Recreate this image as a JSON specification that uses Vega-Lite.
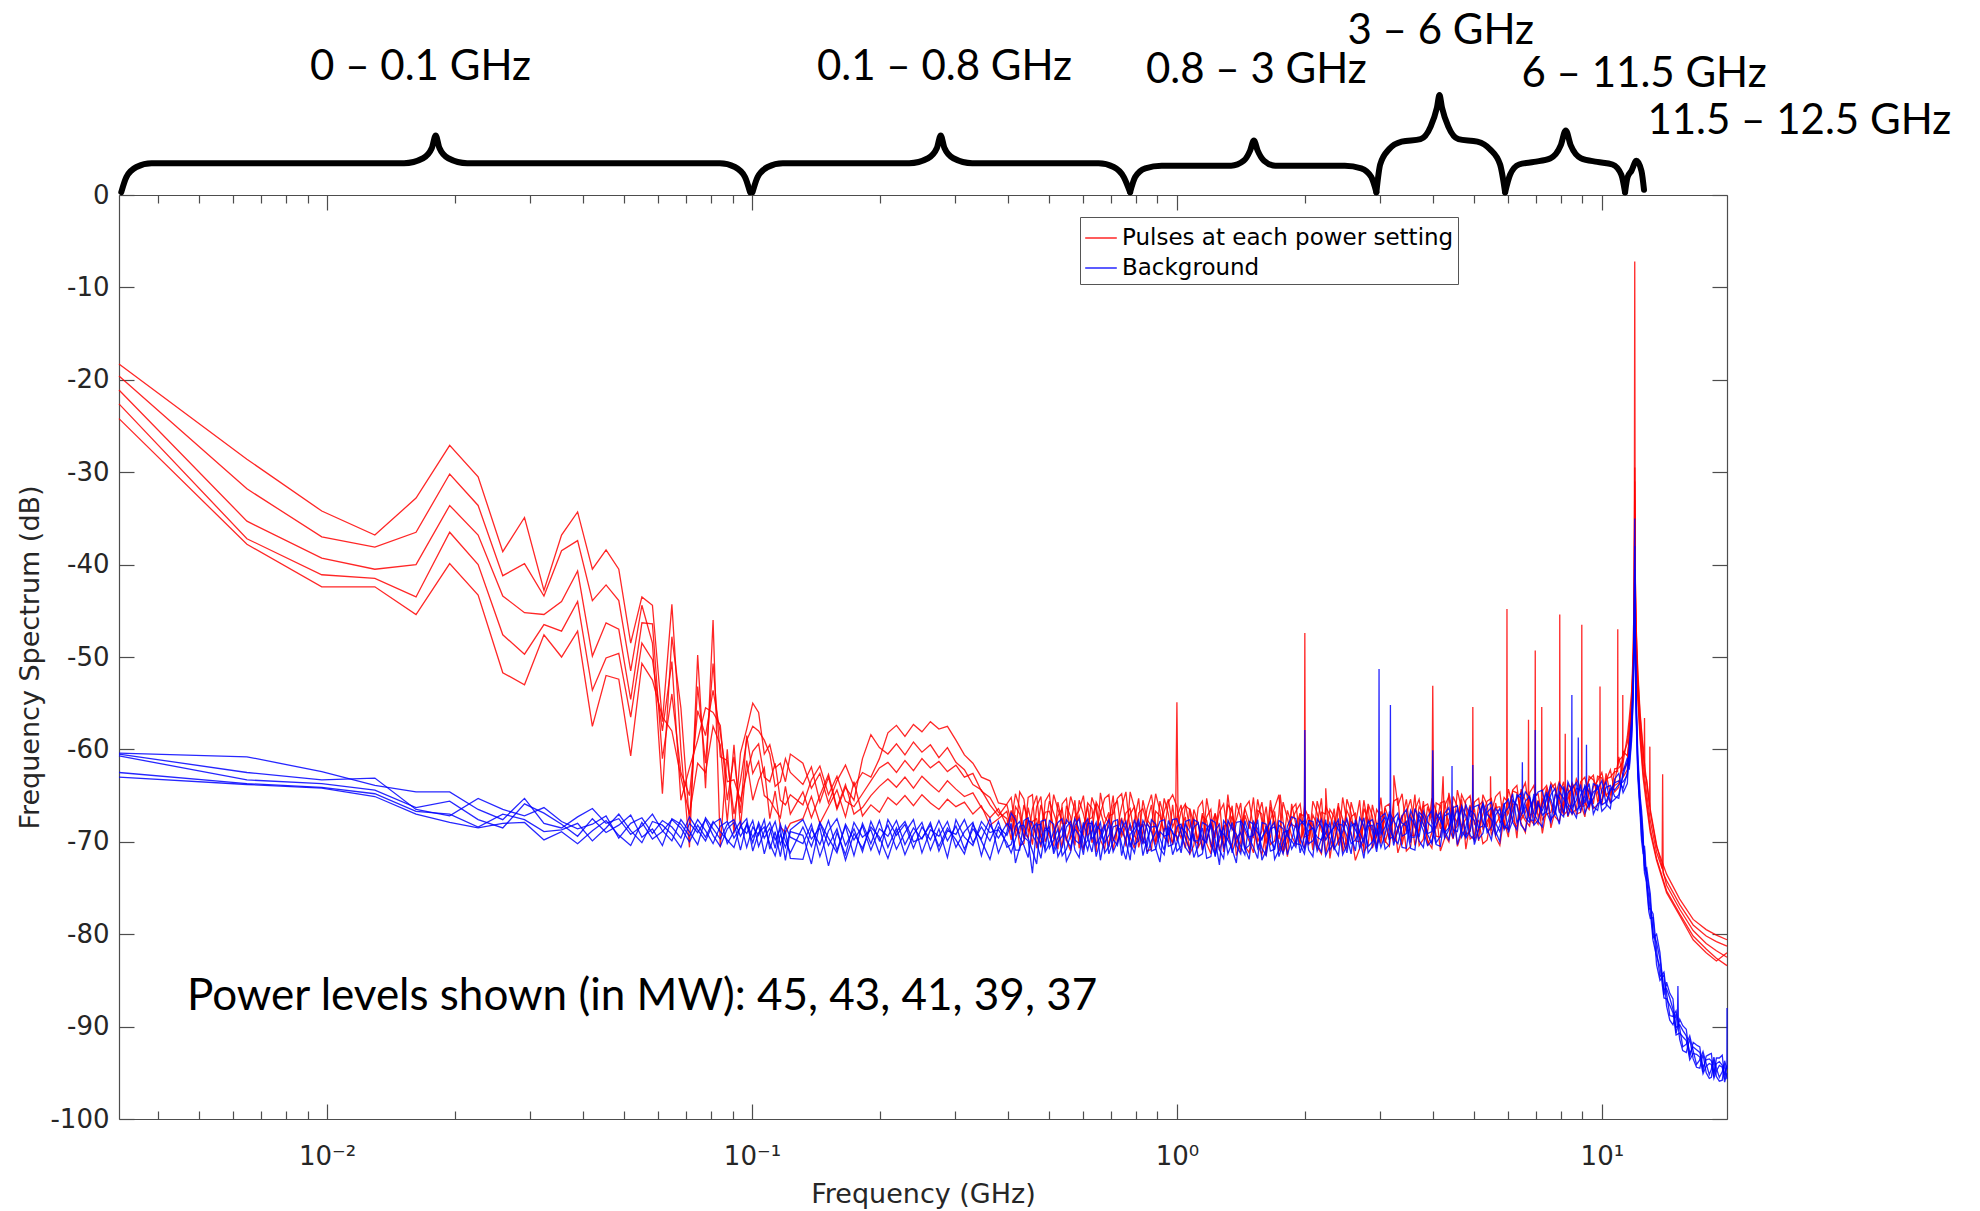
{
"$schema": "https://vega.github.io/schema/vega-lite/v6.json",
"width": 1608, "height": 924,
"autosize": {"type": "none"},
"padding": {"left": 119, "top": 195, "right": 253, "bottom": 92},
"background": "white",
"config": {
 "view": {"stroke": null},
 "axis": {"domainColor": "#4d4d4d", "domainWidth": 1.2, "tickColor": "#4d4d4d", "tickWidth": 1.2, "labelColor": "#262626", "titleColor": "#262626", "labelFont": "DejaVu Sans", "titleFont": "DejaVu Sans", "labelFontSize": 26, "titleFontSize": 27, "titleFontWeight": "normal", "grid": false}
},
"data": {"values": [
{"f":0.00324,"r1":-18.3,"r2":-19.6,"r3":-21.1,"r4":-22.6,"r5":-24.2,"b1":-60.4,"b2":-60.5,"b3":-60.7,"b4":-62.5,"b5":-63.0},
{"f":0.00648,"r1":-28.6,"r2":-31.8,"r3":-35.3,"r4":-37.2,"r5":-37.8,"b1":-60.8,"b2":-62.5,"b3":-63.3,"b4":-63.7,"b5":-63.8},
{"f":0.00972,"r1":-34.2,"r2":-37.0,"r3":-39.3,"r4":-41.1,"r5":-42.4,"b1":-62.4,"b2":-63.3,"b3":-63.7,"b4":-64.1,"b5":-64.2},
{"f":0.01296,"r1":-36.8,"r2":-38.1,"r3":-40.5,"r4":-41.5,"r5":-42.4,"b1":-63.9,"b2":-63.1,"b3":-64.4,"b4":-64.8,"b5":-65.1},
{"f":0.0162,"r1":-32.8,"r2":-36.5,"r3":-40.0,"r4":-43.5,"r5":-45.4,"b1":-64.6,"b2":-66.5,"b3":-66.3,"b4":-66.7,"b5":-67.0},
{"f":0.01944,"r1":-27.1,"r2":-30.2,"r3":-33.6,"r4":-36.5,"r5":-39.9,"b1":-64.6,"b2":-67.2,"b3":-65.6,"b4":-67.0,"b5":-67.9},
{"f":0.02268,"r1":-30.5,"r2":-33.6,"r3":-36.8,"r4":-40.0,"r5":-43.3,"b1":-66.5,"b2":-65.3,"b3":-67.6,"b4":-68.4,"b5":-68.5},
{"f":0.02592,"r1":-38.6,"r2":-41.2,"r3":-43.4,"r4":-47.6,"r5":-51.7,"b1":-67.6,"b2":-66.5,"b3":-68.5,"b4":-67.0,"b5":-68.0},
{"f":0.02916,"r1":-34.9,"r2":-39.9,"r3":-45.2,"r4":-49.7,"r5":-53.0,"b1":-65.3,"b2":-67.2,"b3":-65.9,"b4":-67.6,"b5":-67.9},
{"f":0.0324,"r1":-42.8,"r2":-43.4,"r3":-45.4,"r4":-46.5,"r5":-47.6,"b1":-68.0,"b2":-66.3,"b3":-66.9,"b4":-68.9,"b5":-69.8},
{"f":0.03564,"r1":-36.8,"r2":-38.5,"r3":-44.0,"r4":-47.2,"r5":-50.0,"b1":-68.5,"b2":-67.8,"b3":-68.1,"b4":-68.7,"b5":-68.9},
{"f":0.03888,"r1":-34.3,"r2":-37.4,"r3":-40.7,"r4":-44.0,"r5":-47.2,"b1":-67.3,"b2":-68.6,"b3":-69.4,"b4":-68.0,"b5":-70.2},
{"f":0.04212,"r1":-40.5,"r2":-43.9,"r3":-49.9,"r4":-53.6,"r5":-57.5,"b1":-66.4,"b2":-68.1,"b3":-67.5,"b4":-69.9,"b5":-68.8},
{"f":0.04536,"r1":-38.4,"r2":-42.2,"r3":-46.3,"r4":-50.1,"r5":-52.0,"b1":-68.0,"b2":-67.2,"b3":-69.0,"b4":-68.5,"b5":-67.7},
{"f":0.0486,"r1":-40.5,"r2":-43.9,"r3":-47.0,"r4":-49.6,"r5":-52.4,"b1":-67.5,"b2":-69.6,"b3":-68.2,"b4":-67.0,"b5":-69.3},
{"f":0.05184,"r1":-48.5,"r2":-51.5,"r3":-54.6,"r4":-56.5,"r5":-60.7,"b1":-69.2,"b2":-68.0,"b3":-67.1,"b4":-68.8,"b5":-70.4},
{"f":0.05508,"r1":-43.5,"r2":-44.4,"r3":-46.3,"r4":-48.5,"r5":-50.7,"b1":-68.3,"b2":-67.4,"b3":-69.5,"b4":-70.1,"b5":-67.9},
{"f":0.05832,"r1":-44.4,"r2":-48.5,"r3":-46.4,"r4":-50.3,"r5":-52.5,"b1":-67.0,"b2":-69.1,"b3":-68.6,"b4":-67.8,"b5":-69.7},
{"f":0.06156,"r1":-57.0,"r2":-64.8,"r3":-61.0,"r4":-58.0,"r5":-56.5,"b1":-68.8,"b2":-67.7,"b3":-70.4,"b4":-68.2,"b5":-68.9},
{"f":0.0648,"r1":-44.3,"r2":-47.8,"r3":-54.0,"r4":-50.5,"r5":-58.0,"b1":-69.9,"b2":-68.4,"b3":-67.5,"b4":-69.2,"b5":-67.6},
{"f":0.06804,"r1":-60.0,"r2":-55.5,"r3":-62.5,"r4":-65.5,"r5":-63.0,"b1":-67.6,"b2":-69.6,"b3":-68.1,"b4":-70.6,"b5":-68.5},
{"f":0.07128,"r1":-70.6,"r2":-68.0,"r3":-65.0,"r4":-62.0,"r5":-67.0,"b1":-68.9,"b2":-67.3,"b3":-69.4,"b4":-68.0,"b5":-70.0},
{"f":0.07452,"r1":-49.8,"r2":-53.2,"r3":-55.8,"r4":-59.0,"r5":-61.5,"b1":-70.3,"b2":-68.7,"b3":-67.6,"b4":-69.0,"b5":-68.2},
{"f":0.07776,"r1":-64.2,"r2":-61.5,"r3":-58.5,"r4":-55.5,"r5":-62.5,"b1":-67.4,"b2":-69.9,"b3":-68.8,"b4":-67.6,"b5":-69.5},
{"f":0.081,"r1":-46.0,"r2":-50.7,"r3":-53.6,"r4":-56.0,"r5":-57.5,"b1":-68.6,"b2":-68.0,"b3":-70.2,"b4":-69.3,"b5":-67.8},
{"f":0.08424,"r1":-70.6,"r2":-60.8,"r3":-58.2,"r4":-57.4,"r5":-59.5,"b1":-69.7,"b2":-67.5,"b3":-68.3,"b4":-70.5,"b5":-68.9},
{"f":0.08748,"r1":-60.0,"r2":-61.2,"r3":-63.5,"r4":-65.5,"r5":-67.8,"b1":-68.1,"b2":-70.2,"b3":-67.8,"b4":-68.6,"b5":-69.8},
{"f":0.09072,"r1":-69.1,"r2":-67.0,"r3":-63.3,"r4":-60.8,"r5":-59.5,"b1":-67.6,"b2":-68.9,"b3":-69.6,"b4":-67.9,"b5":-70.6},
{"f":0.09396,"r1":-60.4,"r2":-63.4,"r3":-65.5,"r4":-66.9,"r5":-68.4,"b1":-69.4,"b2":-67.8,"b3":-68.4,"b4":-70.9,"b5":-68.3},
{"f":0.0972,"r1":-57.8,"r2":-59.0,"r3":-62.6,"r4":-58.5,"r5":-61.2,"b1":-68.2,"b2":-70.6,"b3":-69.1,"b4":-68.0,"b5":-67.5},
{"f":0.10044,"r1":-55.0,"r2":-57.5,"r3":-60.2,"r4":-62.6,"r5":-65.5,"b1":-70.1,"b2":-68.4,"b3":-67.7,"b4":-69.5,"b5":-71.0},
{"f":0.10368,"r1":-56.0,"r2":-58.0,"r3":-59.4,"r4":-61.3,"r5":-63.3,"b1":-67.9,"b2":-69.3,"b3":-70.5,"b4":-68.2,"b5":-69.0},
{"f":0.10692,"r1":-60.5,"r2":-59.0,"r3":-63.0,"r4":-65.0,"r5":-62.0,"b1":-69.6,"b2":-67.6,"b3":-68.9,"b4":-71.3,"b5":-68.4},
{"f":0.11016,"r1":-59.5,"r2":-60.5,"r3":-63.5,"r4":-65.5,"r5":-67.5,"b1":-68.5,"b2":-70.8,"b3":-67.9,"b4":-69.1,"b5":-70.2},
{"f":0.1134,"r1":-62.0,"r2":-64.0,"r3":-61.5,"r4":-66.5,"r5":-64.5,"b1":-70.7,"b2":-68.9,"b3":-69.8,"b4":-67.8,"b5":-71.5},
{"f":0.11664,"r1":-61.5,"r2":-63.5,"r3":-65.5,"r4":-67.4,"r5":-68.4,"b1":-68.1,"b2":-71.6,"b3":-68.6,"b4":-70.3,"b5":-69.2},
{"f":0.11988,"r1":-63.5,"r2":-61.0,"r3":-66.0,"r4":-64.0,"r5":-69.0,"b1":-69.9,"b2":-68.3,"b3":-72.0,"b4":-68.9,"b5":-70.6},
{"f":0.12312,"r1":-60.5,"r2":-62.5,"r3":-64.9,"r4":-67.0,"r5":-68.0,"b1":-71.2,"b2":-69.5,"b3":-68.7,"b4":-71.8,"b5":-68.9},
{"f":0.1318,"r1":-61.5,"r2":-63.8,"r3":-66.0,"r4":-64.6,"r5":-67.5,"b1":-68.4,"b2":-70.2,"b3":-67.6,"b4":-71.9,"b5":-69.3},
{"f":0.138,"r1":-64.2,"r2":-61.9,"r3":-63.3,"r4":-67.4,"r5":-65.1,"b1":-70.5,"b2":-68.1,"b3":-69.7,"b4":-68.6,"b5":-72.4},
{"f":0.1445,"r1":-62.6,"r2":-65.7,"r3":-61.8,"r4":-65.0,"r5":-68.0,"b1":-67.9,"b2":-71.6,"b3":-68.5,"b4":-70.3,"b5":-68.0},
{"f":0.1514,"r1":-65.8,"r2":-63.0,"r3":-64.9,"r4":-62.7,"r5":-66.2,"b1":-69.6,"b2":-68.8,"b3":-72.6,"b4":-67.7,"b5":-70.4},
{"f":0.1585,"r1":-63.4,"r2":-66.5,"r3":-62.9,"r4":-66.3,"r5":-64.4,"b1":-71.2,"b2":-67.5,"b3":-69.0,"b4":-70.9,"b5":-68.6},
{"f":0.166,"r1":-61.7,"r2":-64.1,"r3":-65.6,"r4":-63.8,"r5":-67.3,"b1":-68.1,"b2":-70.4,"b3":-71.4,"b4":-68.3,"b5":-72.0},
{"f":0.1738,"r1":-64.0,"r2":-65.5,"r3":-66.2,"r4":-67.0,"r5":-63.5,"b1":-69.8,"b2":-68.6,"b3":-67.9,"b4":-71.5,"b5":-69.1},
{"f":0.182,"r1":-62.5,"r2":-61.0,"r3":-64.8,"r4":-66.3,"r5":-67.2,"b1":-68.3,"b2":-71.1,"b3":-69.5,"b4":-68.0,"b5":-70.7},
{"f":0.1905,"r1":-63.0,"r2":-58.4,"r3":-63.4,"r4":-65.0,"r5":-66.0,"b1":-70.9,"b2":-67.8,"b3":-68.7,"b4":-70.2,"b5":-68.4},
{"f":0.1995,"r1":-61.0,"r2":-59.8,"r3":-62.0,"r4":-64.0,"r5":-66.8,"b1":-68.6,"b2":-69.9,"b3":-71.3,"b4":-67.7,"b5":-69.5},
{"f":0.2089,"r1":-58.2,"r2":-60.5,"r3":-61.4,"r4":-63.2,"r5":-65.2,"b1":-69.4,"b2":-68.2,"b3":-67.6,"b4":-70.6,"b5":-71.8},
{"f":0.2188,"r1":-57.4,"r2":-59.4,"r3":-62.5,"r4":-64.1,"r5":-66.0,"b1":-67.7,"b2":-70.8,"b3":-69.3,"b4":-68.5,"b5":-68.9},
{"f":0.2291,"r1":-58.6,"r2":-60.6,"r3":-61.2,"r4":-63.0,"r5":-65.0,"b1":-70.3,"b2":-69.0,"b3":-68.1,"b4":-71.4,"b5":-67.8},
{"f":0.2399,"r1":-57.3,"r2":-59.2,"r3":-62.3,"r4":-64.2,"r5":-66.1,"b1":-68.5,"b2":-67.6,"b3":-70.7,"b4":-69.2,"b5":-70.0},
{"f":0.2512,"r1":-58.1,"r2":-60.3,"r3":-61.0,"r4":-62.9,"r5":-64.9,"b1":-69.7,"b2":-71.2,"b3":-68.4,"b4":-67.9,"b5":-69.6},
{"f":0.263,"r1":-57.0,"r2":-59.5,"r3":-62.0,"r4":-63.8,"r5":-65.8,"b1":-67.9,"b2":-68.7,"b3":-69.8,"b4":-70.9,"b5":-68.2},
{"f":0.2754,"r1":-57.8,"r2":-60.9,"r3":-61.3,"r4":-64.6,"r5":-66.5,"b1":-71.0,"b2":-69.4,"b3":-67.7,"b4":-68.6,"b5":-70.5},
{"f":0.2884,"r1":-57.5,"r2":-59.8,"r3":-62.4,"r4":-63.4,"r5":-65.4,"b1":-68.8,"b2":-67.8,"b3":-69.9,"b4":-71.7,"b5":-68.5},
{"f":0.302,"r1":-59.0,"r2":-61.4,"r3":-61.7,"r4":-64.3,"r5":-66.2,"b1":-69.2,"b2":-70.6,"b3":-68.3,"b4":-67.6,"b5":-69.8},
{"f":0.3162,"r1":-60.6,"r2":-62.2,"r3":-63.0,"r4":-65.1,"r5":-65.7,"b1":-67.6,"b2":-68.9,"b3":-70.8,"b4":-69.5,"b5":-71.3},
{"f":0.3311,"r1":-61.5,"r2":-63.8,"r3":-62.6,"r4":-64.7,"r5":-67.0,"b1":-70.1,"b2":-67.9,"b3":-68.6,"b4":-70.4,"b5":-68.1},
{"f":0.3467,"r1":-63.0,"r2":-64.4,"r3":-64.5,"r4":-66.3,"r5":-66.1,"b1":-68.4,"b2":-71.5,"b3":-69.7,"b4":-67.8,"b5":-69.9},
{"f":0.3631,"r1":-63.4,"r2":-66.0,"r3":-65.2,"r4":-67.4,"r5":-68.2,"b1":-69.9,"b2":-68.2,"b3":-67.5,"b4":-69.0,"b5":-71.9},
{"f":0.3802,"r1":-65.8,"r2":-67.2,"r3":-66.8,"r4":-66.4,"r5":-67.5,"b1":-67.8,"b2":-69.6,"b3":-71.2,"b4":-68.7,"b5":-68.4},
{"f":0.3981,"r1":-66.0,"r2":-65.9,"r3":-67.5,"r4":-68.3,"r5":-66.7,"b1":-70.6,"b2":-68.0,"b3":-68.9,"b4":-70.1,"b5":-69.3},
{"f":0.4169,"r1":-64.8,"r2":-68.6,"r3":-66.2,"r4":-69.4,"r5":-67.1,"b1":-68.3,"b2":-70.9,"b3":-67.6,"b4":-69.7,"b5":-72.3},
{"f":0.4365,"r1":-68.9,"r2":-66.0,"r3":-69.7,"r4":-65.4,"r5":-70.2,"b1":-69.5,"b2":-67.7,"b3":-70.4,"b4":-68.2,"b5":-69.8},
{"f":0.4571,"r1":-66.4,"r2":-70.3,"r3":-64.9,"r4":-67.8,"r5":-68.5,"b1":-73.4,"b2":-69.3,"b3":-68.5,"b4":-71.0,"b5":-67.9},
{"f":0.4786,"r1":-69.5,"r2":-65.1,"r3":-68.2,"r4":-70.6,"r5":-66.0,"b1":-68.1,"b2":-71.8,"b3":-69.6,"b4":-67.8,"b5":-70.3},
{"f":0.5012,"r1":-65.6,"r2":-68.9,"r3":-66.7,"r4":-64.8,"r5":-69.4,"b1":-70.2,"b2":-68.4,"b3":-67.7,"b4":-70.7,"b5":-68.9},
{"f":0.5248,"r1":-68.3,"r2":-66.5,"r3":-70.8,"r4":-67.2,"r5":-65.7,"b1":-67.9,"b2":-70.0,"b3":-71.6,"b4":-68.6,"b5":-69.5},
{"f":0.5495,"r1":-66.1,"r2":-69.8,"r3":-65.3,"r4":-69.9,"r5":-68.0,"b1":-69.7,"b2":-67.6,"b3":-68.4,"b4":-70.8,"b5":-72.1},
{"f":0.5754,"r1":-70.4,"r2":-67.3,"r3":-68.6,"r4":-65.5,"r5":-66.6,"b1":-68.6,"b2":-70.9,"b3":-69.8,"b4":-67.5,"b5":-68.2},
{"f":0.6026,"r1":-67.0,"r2":-65.0,"r3":-69.3,"r4":-68.4,"r5":-70.9,"b1":-71.4,"b2":-68.3,"b3":-67.9,"b4":-69.4,"b5":-70.6},
{"f":0.631,"r1":-65.2,"r2":-68.8,"r3":-66.4,"r4":-70.1,"r5":-67.4,"b1":-68.0,"b2":-69.7,"b3":-71.1,"b4":-68.9,"b5":-67.7},
{"f":0.6607,"r1":-69.1,"r2":-66.7,"r3":-64.7,"r4":-66.9,"r5":-69.8,"b1":-69.8,"b2":-67.9,"b3":-68.7,"b4":-72.0,"b5":-69.4},
{"f":0.6918,"r1":-66.8,"r2":-70.5,"r3":-68.0,"r4":-64.9,"r5":-67.2,"b1":-67.6,"b2":-70.5,"b3":-69.3,"b4":-68.2,"b5":-71.3},
{"f":0.7244,"r1":-68.5,"r2":-65.6,"r3":-70.2,"r4":-68.7,"r5":-65.3,"b1":-70.4,"b2":-68.2,"b3":-67.6,"b4":-70.0,"b5":-68.5},
{"f":0.7586,"r1":-64.6,"r2":-68.3,"r3":-66.9,"r4":-70.5,"r5":-68.1,"b1":-68.7,"b2":-71.9,"b3":-69.5,"b4":-67.8,"b5":-69.9},
{"f":0.7943,"r1":-67.7,"r2":-66.2,"r3":-69.4,"r4":-66.3,"r5":-70.7,"b1":-71.2,"b2":-68.6,"b3":-70.3,"b4":-69.1,"b5":-67.6},
{"f":0.8318,"r1":-70.2,"r2":-68.9,"r3":-65.5,"r4":-68.1,"r5":-66.4,"b1":-68.2,"b2":-69.8,"b3":-67.7,"b4":-71.5,"b5":-70.2},
{"f":0.871,"r1":-66.0,"r2":-64.9,"r3":-68.3,"r4":-70.8,"r5":-68.6,"b1":-69.9,"b2":-67.6,"b3":-71.0,"b4":-68.4,"b5":-68.9},
{"f":0.912,"r1":-68.7,"r2":-69.5,"r3":-66.6,"r4":-67.2,"r5":-65.6,"b1":-67.8,"b2":-70.7,"b3":-68.9,"b4":-69.6,"b5":-72.2},
{"f":0.955,"r1":-65.4,"r2":-67.0,"r3":-70.1,"r4":-65.7,"r5":-69.3,"b1":-70.5,"b2":-68.4,"b3":-69.2,"b4":-67.7,"b5":-68.6},
{"f":0.993,"r1":-67.6},
{"f":1.0,"r1":-54.9,"r2":-67.4,"r3":-69.9,"r4":-66.2,"r5":-68.8,"b1":-68.3,"b2":-71.0,"b3":-67.5,"b4":-69.4,"b5":-70.1},
{"f":1.007,"r1":-68.9},
{"f":1.047,"r1":-66.1,"r2":-69.6,"r3":-67.3,"r4":-70.7,"r5":-65.9,"b1":-69.6,"b2":-67.8,"b3":-70.6,"b4":-68.1,"b5":-68.9},
{"f":1.096,"r1":-69.8,"r2":-66.5,"r3":-70.4,"r4":-68.0,"r5":-67.4,"b1":-67.6,"b2":-69.9,"b3":-68.4,"b4":-71.7,"b5":-69.2},
{"f":1.148,"r1":-67.2,"r2":-70.9,"r3":-65.6,"r4":-66.9,"r5":-69.7,"b1":-70.8,"b2":-68.5,"b3":-69.7,"b4":-67.9,"b5":-71.3},
{"f":1.202,"r1":-70.6,"r2":-67.9,"r3":-68.2,"r4":-71.3,"r5":-66.5,"b1":-68.2,"b2":-71.6,"b3":-67.6,"b4":-70.2,"b5":-68.0},
{"f":1.259,"r1":-66.8,"r2":-65.4,"r3":-70.9,"r4":-68.6,"r5":-69.9,"b1":-69.5,"b2":-68.1,"b3":-70.9,"b4":-68.7,"b5":-72.5},
{"f":1.318,"r1":-69.3,"r2":-68.7,"r3":-66.0,"r4":-64.9,"r5":-68.2,"b1":-71.3,"b2":-69.6,"b3":-67.7,"b4":-69.8,"b5":-68.4},
{"f":1.38,"r1":-65.8,"r2":-70.2,"r3":-69.4,"r4":-67.6,"r5":-71.5,"b1":-67.9,"b2":-70.4,"b3":-69.2,"b4":-72.3,"b5":-69.6},
{"f":1.445,"r1":-68.9,"r2":-66.3,"r3":-67.1,"r4":-70.4,"r5":-66.4,"b1":-70.6,"b2":-67.7,"b3":-71.4,"b4":-68.5,"b5":-70.8},
{"f":1.514,"r1":-71.2,"r2":-68.5,"r3":-65.2,"r4":-68.3,"r5":-69.6,"b1":-68.4,"b2":-69.3,"b3":-68.1,"b4":-70.6,"b5":-67.8},
{"f":1.585,"r1":-67.0,"r2":-71.4,"r3":-68.8,"r4":-65.7,"r5":-67.8,"b1":-69.8,"b2":-72.0,"b3":-69.5,"b4":-67.9,"b5":-70.7},
{"f":1.66,"r1":-66.2,"r2":-67.6,"r3":-70.3,"r4":-69.5,"r5":-65.5,"b1":-71.0,"b2":-68.6,"b3":-67.8,"b4":-69.9,"b5":-68.5},
{"f":1.738,"r1":-69.7,"r2":-64.9,"r3":-67.0,"r4":-71.0,"r5":-68.9,"b1":-67.7,"b2":-70.1,"b3":-70.9,"b4":-68.2,"b5":-71.6},
{"f":1.75,"r3":-64.9},
{"f":1.82,"r1":-67.5,"r2":-69.2,"r3":-71.6,"r4":-66.6,"r5":-70.0,"b1":-69.4,"b2":-68.3,"b3":-68.8,"b4":-71.4,"b5":-69.0},
{"f":1.905,"r1":-70.3,"r2":-66.7,"r3":-68.1,"r4":-68.4,"r5":-65.9,"b1":-70.6,"b2":-67.5,"b3":-69.9,"b4":-68.0,"b5":-70.2},
{"f":1.995,"r1":-67.2,"r2":-69.5,"r3":-66.3,"r4":-70.6,"r5":-68.7,"b1":-68.2,"b2":-70.8,"b3":-67.7,"b4":-69.4,"b5":-71.3},
{"f":2.0,"r1":-47.4,"b1":-57.9},
{"f":2.006,"r1":-68.5,"b1":-69.0},
{"f":2.089,"r1":-65.6,"r2":-68.0,"r3":-70.9,"r4":-67.1,"r5":-69.5,"b1":-69.9,"b2":-68.6,"b3":-71.6,"b4":-67.8,"b5":-68.5},
{"f":2.188,"r1":-68.8,"r2":-71.3,"r3":-67.4,"r4":-65.3,"r5":-66.8,"b1":-67.6,"b2":-69.7,"b3":-68.3,"b4":-71.1,"b5":-69.8},
{"f":2.24,"r5":-64.2},
{"f":2.291,"r1":-66.5,"r2":-67.1,"r3":-69.6,"r4":-68.9,"r5":-71.8,"b1":-70.4,"b2":-67.9,"b3":-69.0,"b4":-68.4,"b5":-70.9},
{"f":2.399,"r1":-70.1,"r2":-65.8,"r3":-66.2,"r4":-70.4,"r5":-67.9,"b1":-68.7,"b2":-71.5,"b3":-67.6,"b4":-69.9,"b5":-68.1},
{"f":2.512,"r1":-67.8,"r2":-69.7,"r3":-70.8,"r4":-66.6,"r5":-65.4,"b1":-71.2,"b2":-68.3,"b3":-70.4,"b4":-67.5,"b5":-69.4},
{"f":2.63,"r1":-72.0,"r2":-66.9,"r3":-67.5,"r4":-68.2,"r5":-69.9,"b1":-68.0,"b2":-69.8,"b3":-68.7,"b4":-71.0,"b5":-67.6},
{"f":2.754,"r1":-66.4,"r2":-70.6,"r3":-65.5,"r4":-71.1,"r5":-68.2,"b1":-69.5,"b2":-67.4,"b3":-71.8,"b4":-68.3,"b5":-70.1},
{"f":2.884,"r1":-68.6,"r2":-67.2,"r3":-69.9,"r4":-66.0,"r5":-70.7,"b1":-67.6,"b2":-70.5,"b3":-68.2,"b4":-70.0,"b5":-68.9},
{"f":2.985,"b1":-68.4},
{"f":2.99,"b1":-51.3},
{"f":2.995,"b1":-67.9},
{"f":3.02,"r1":-66.7,"r2":-69.4,"r3":-67.3,"r4":-70.2,"r5":-65.2,"b1":-69.2,"b2":-68.1,"b3":-67.3,"b4":-70.6,"b5":-68.0},
{"f":3.162,"r1":-69.8,"r2":-65.9,"r3":-70.5,"r4":-67.7,"r5":-68.3,"b1":-67.0,"b2":-70.3,"b3":-68.6,"b4":-66.8,"b5":-69.7},
{"f":3.175,"b2":-67.6},
{"f":3.18,"b2":-55.2},
{"f":3.186,"b2":-68.3},
{"f":3.24,"r3":-62.8},
{"f":3.311,"r1":-65.3,"r2":-68.5,"r3":-66.1,"r4":-68.9,"r5":-71.2,"b1":-68.6,"b2":-66.9,"b3":-70.2,"b4":-68.5,"b5":-67.4},
{"f":3.467,"r1":-68.1,"r2":-71.0,"r3":-68.8,"r4":-65.4,"r5":-66.9,"b1":-66.5,"b2":-69.1,"b3":-67.8,"b4":-70.7,"b5":-68.3},
{"f":3.631,"r1":-70.4,"r2":-66.6,"r3":-64.9,"r4":-69.3,"r5":-68.5,"b1":-69.5,"b2":-67.7,"b3":-66.4,"b4":-68.2,"b5":-70.9},
{"f":3.802,"r1":-66.2,"r2":-68.2,"r3":-69.7,"r4":-67.0,"r5":-65.6,"b1":-67.3,"b2":-70.6,"b3":-68.8,"b4":-66.7,"b5":-68.1},
{"f":3.981,"r1":-67.4,"r2":-65.3,"r3":-67.9,"r4":-70.7,"r5":-69.0,"b1":-68.9,"b2":-66.6,"b3":-69.9,"b4":-68.4,"b5":-70.2},
{"f":4.0,"r1":-53.1,"b1":-60.1},
{"f":4.02,"r1":-67.8,"b1":-68.6},
{"f":4.169,"r1":-69.5,"r2":-68.6,"r3":-65.8,"r4":-66.1,"r5":-71.0,"b1":-66.8,"b2":-69.4,"b3":-67.2,"b4":-70.5,"b5":-67.7},
{"f":4.23,"r2":-62.9},
{"f":4.365,"r1":-65.1,"r2":-70.0,"r3":-68.4,"r4":-67.6,"r5":-64.7,"b1":-68.7,"b2":-66.3,"b3":-68.5,"b4":-66.9,"b5":-69.8},
{"f":4.435,"b3":-67.1},
{"f":4.44,"b3":-61.8},
{"f":4.446,"b3":-68.0},
{"f":4.571,"r1":-68.3,"r2":-66.2,"r3":-64.4,"r4":-70.5,"r5":-67.9,"b1":-66.1,"b2":-68.9,"b3":-70.3,"b4":-67.6,"b5":-66.5},
{"f":4.786,"r1":-70.8,"r2":-67.5,"r3":-69.2,"r4":-65.5,"r5":-66.0,"b1":-69.5,"b2":-67.2,"b3":-66.0,"b4":-69.6,"b5":-68.4},
{"f":4.96,"r4":-66.9,"b4":-67.4},
{"f":4.97,"r4":-55.4,"b4":-61.7},
{"f":4.98,"r4":-67.3,"b4":-66.5},
{"f":5.012,"r1":-66.4,"r2":-69.8,"r3":-65.7,"r4":-68.1,"r5":-69.3,"b1":-67.0,"b2":-69.8,"b3":-67.7,"b4":-66.2,"b5":-70.3},
{"f":5.248,"r1":-64.9,"r2":-67.0,"r3":-68.6,"r4":-70.2,"r5":-65.6,"b1":-68.3,"b2":-66.0,"b3":-69.1,"b4":-67.9,"b5":-65.8},
{"f":5.465,"r5":-67.0},
{"f":5.47,"r5":-62.9},
{"f":5.495,"r1":-69.2,"r2":-65.3,"r3":-66.8,"r4":-67.0,"r5":-68.8,"b1":-65.7,"b2":-68.4,"b3":-66.3,"b4":-69.8,"b5":-67.6},
{"f":5.754,"r1":-67.3,"r2":-70.4,"r3":-64.6,"r4":-66.2,"r5":-67.9,"b1":-68.9,"b2":-67.1,"b3":-70.0,"b4":-66.4,"b5":-68.2},
{"f":5.97,"r2":-66.5},
{"f":5.98,"r2":-44.8},
{"f":5.99,"r2":-67.1},
{"f":6.026,"r1":-65.8,"r2":-66.9,"r3":-68.7,"r4":-64.3,"r5":-69.5,"b1":-66.3,"b2":-68.6,"b3":-65.4,"b4":-67.8,"b5":-69.0},
{"f":6.31,"r1":-68.4,"r2":-64.7,"r3":-66.0,"r4":-69.6,"r5":-63.9,"b1":-67.9,"b2":-65.2,"b3":-68.7,"b4":-66.0,"b5":-64.9},
{"f":6.49,"b5":-66.6},
{"f":6.5,"b5":-61.4},
{"f":6.51,"b5":-67.0},
{"f":6.607,"r1":-63.6,"r2":-67.7,"r3":-69.0,"r4":-65.5,"r5":-66.8,"b1":-65.6,"b2":-67.4,"b3":-64.6,"b4":-68.8,"b5":-66.1},
{"f":6.71,"r3":-66.0},
{"f":6.72,"r3":-56.8},
{"f":6.73,"r3":-67.2},
{"f":6.918,"r1":-66.9,"r2":-65.2,"r3":-63.9,"r4":-68.1,"r5":-67.4,"b1":-68.2,"b2":-64.8,"b3":-66.9,"b4":-65.3,"b5":-67.7},
{"f":6.96,"r1":-65.8,"b2":-66.1},
{"f":6.97,"r1":-49.3,"b2":-57.9},
{"f":6.98,"r1":-66.4,"b2":-67.0},
{"f":7.21,"r4":-67.0},
{"f":7.22,"r4":-55.4},
{"f":7.23,"r4":-65.9},
{"f":7.244,"r1":-69.1,"r2":-67.6,"r3":-66.2,"r4":-64.5,"r5":-65.3,"b1":-65.9,"b2":-67.1,"b3":-68.4,"b4":-64.4,"b5":-66.6},
{"f":7.586,"r1":-64.2,"r2":-66.8,"r3":-68.5,"r4":-65.9,"r5":-63.6,"b1":-67.6,"b2":-64.9,"b3":-65.4,"b4":-67.9,"b5":-63.8},
{"f":7.943,"r1":-66.7,"r2":-63.4,"r3":-64.9,"r4":-67.8,"r5":-65.9,"b1":-64.6,"b2":-66.8,"b3":-63.7,"b4":-65.2,"b5":-68.1},
{"f":7.955,"r5":-65.2},
{"f":7.96,"r5":-45.4},
{"f":7.97,"r5":-66.0},
{"f":8.19,"r2":-65.0},
{"f":8.2,"r2":-58.3},
{"f":8.21,"r2":-64.6},
{"f":8.318,"r1":-63.9,"r2":-65.5,"r3":-67.3,"r4":-64.1,"r5":-66.6,"b1":-66.3,"b2":-63.5,"b3":-67.2,"b4":-64.7,"b5":-65.9},
{"f":8.49,"b3":-65.7},
{"f":8.5,"b3":-54.1},
{"f":8.51,"b3":-66.4},
{"f":8.71,"r1":-67.0,"r2":-64.6,"r3":-63.2,"r4":-66.4,"r5":-64.8,"b1":-64.2,"b2":-66.6,"b3":-65.5,"b4":-63.6,"b5":-67.4},
{"f":8.79,"b4":-64.9},
{"f":8.8,"b4":-58.7},
{"f":8.81,"b4":-65.8},
{"f":8.96,"r3":-64.3},
{"f":8.97,"r3":-46.5},
{"f":8.98,"r3":-65.9},
{"f":9.12,"r1":-64.5,"r2":-67.3,"r3":-65.8,"r4":-63.0,"r5":-66.1,"b1":-65.8,"b2":-63.9,"b3":-66.9,"b4":-65.0,"b5":-64.1},
{"f":9.19,"b1":-64.8},
{"f":9.2,"b1":-59.5},
{"f":9.21,"b1":-65.5},
{"f":9.55,"r1":-62.8,"r2":-65.9,"r3":-64.0,"r4":-66.4,"r5":-63.3,"b1":-63.7,"b2":-66.2,"b3":-64.6,"b4":-67.0,"b5":-65.3},
{"f":9.89,"r4":-64.2},
{"f":9.9,"r4":-53.2},
{"f":9.91,"r4":-63.6},
{"f":10.0,"r1":-65.4,"r2":-63.1,"r3":-62.5,"r4":-64.8,"r5":-66.0,"b1":-66.0,"b2":-64.3,"b3":-63.4,"b4":-65.6,"b5":-66.7},
{"f":10.47,"r1":-63.0,"r2":-64.4,"r3":-65.7,"r4":-62.2,"r5":-64.9,"b1":-64.5,"b2":-65.8,"b3":-66.4,"b4":-63.9,"b5":-64.2},
{"f":10.89,"r1":-62.4},
{"f":10.9,"r1":-47.0},
{"f":10.91,"r1":-61.9},
{"f":10.96,"r1":-61.2,"r2":-63.6,"r3":-62.0,"r4":-64.1,"r5":-60.8,"b1":-63.4,"b2":-64.9,"b3":-62.6,"b4":-65.3,"b5":-63.8},
{"f":11.19,"r2":-61.8},
{"f":11.2,"r2":-54.1},
{"f":11.21,"r2":-62.3},
{"f":11.48,"r1":-59.3,"r2":-61.5,"r3":-58.6,"r4":-60.7,"r5":-62.2,"b1":-62.5,"b2":-61.3,"b3":-63.7,"b4":-60.9,"b5":-62.8},
{"f":11.6,"r1":-57.5,"r2":-58.8,"r3":-56.6,"r4":-59.2,"r5":-58.0,"b1":-60.4,"b2":-61.8,"b3":-59.6,"b4":-62.2,"b5":-61.0},
{"f":11.75,"r1":-54.8,"r2":-55.9,"r3":-53.7,"r4":-56.4,"r5":-55.2,"b1":-57.3,"b2":-58.5,"b3":-56.6,"b4":-59.0,"b5":-57.9},
{"f":11.85,"r1":-50.2,"r2":-51.5,"r3":-49.4,"r4":-52.0,"r5":-50.8,"b1":-52.6,"b2":-54.0,"b3":-51.9,"b4":-54.5,"b5":-53.2},
{"f":11.92,"r1":-41.0,"r2":-43.5,"r3":-42.0,"r4":-44.8,"r5":-45.5,"b1":-45.5,"b2":-47.5,"b3":-46.0,"b4":-48.2,"b5":-47.0},
{"f":11.95,"r1":-7.2,"r2":-29.5,"r3":-31.0,"r4":-33.0,"r5":-34.5,"b1":-35.0,"b2":-40.5,"b3":-38.0,"b4":-42.0,"b5":-43.5},
{"f":11.98,"r1":-40.5,"r2":-42.5,"r3":-41.2,"r4":-44.0,"r5":-45.0,"b1":-46.0,"b2":-48.5,"b3":-47.0,"b4":-49.0,"b5":-48.0},
{"f":12.05,"r1":-47.5,"r2":-48.8,"r3":-47.0,"r4":-49.6,"r5":-50.2,"b1":-54.5,"b2":-56.0,"b3":-55.2,"b4":-57.0,"b5":-56.2},
{"f":12.15,"r1":-52.0,"r2":-53.2,"r3":-51.5,"r4":-54.0,"r5":-54.6,"b1":-60.5,"b2":-62.0,"b3":-61.2,"b4":-63.0,"b5":-62.4},
{"f":12.3,"r1":-56.4,"r2":-57.5,"r3":-56.0,"r4":-58.3,"r5":-58.9,"b1":-65.0,"b2":-66.2,"b3":-65.6,"b4":-67.0,"b5":-66.4},
{"f":12.5,"r1":-60.2,"r2":-61.5,"r3":-59.8,"r4":-62.4,"r5":-63.0,"b1":-69.0,"b2":-70.4,"b3":-69.7,"b4":-71.2,"b5":-70.6},
{"f":12.58,"r3":-61.8},
{"f":12.6,"r3":-56.6},
{"f":12.62,"r3":-62.6},
{"f":12.75,"r1":-63.6,"r2":-64.8,"r3":-63.3,"r4":-65.6,"r5":-66.2,"b1":-72.8,"b2":-74.0,"b3":-73.4,"b4":-75.0,"b5":-74.4},
{"f":12.95,"r1":-66.2},
{"f":12.97,"r1":-59.7},
{"f":12.99,"r1":-66.6},
{"f":13.0,"r1":-66.8,"r2":-67.7,"r3":-66.5,"r4":-68.6,"r5":-69.0,"b1":-75.6,"b2":-77.2,"b3":-76.5,"b4":-78.3,"b5":-77.6},
{"f":13.45,"r1":-70.5,"r2":-71.1,"r3":-70.3,"r4":-71.8,"r5":-72.0,"b1":-80.0,"b2":-81.7,"b3":-80.9,"b4":-83.3,"b5":-82.4},
{"f":13.86,"r2":-72.9},
{"f":13.9,"r2":-62.7},
{"f":13.94,"r2":-73.4},
{"f":14.2,"r1":-73.5,"r2":-74.2,"r3":-74.7,"r4":-75.3,"r5":-75.5,"b1":-85.2,"b2":-86.4,"b3":-85.9,"b4":-87.8,"b5":-87.0},
{"f":14.7,"b1":-87.0,"b2":-88.9,"b3":-88.1,"b4":-89.8,"b5":-88.5},
{"f":15.05,"b4":-89.9},
{"f":15.1,"b4":-85.6},
{"f":15.15,"b4":-90.3},
{"f":15.25,"r1":-76.2,"r2":-76.8,"r3":-77.3,"r4":-77.8,"r5":-78.0,"b1":-89.2,"b2":-90.2,"b3":-89.8,"b4":-91.4,"b5":-90.7},
{"f":15.8,"b1":-90.3,"b2":-91.9,"b3":-91.0,"b4":-92.8,"b5":-91.5},
{"f":16.4,"r1":-78.4,"r2":-79.0,"r3":-79.6,"r4":-80.2,"r5":-80.6,"b1":-91.7,"b2":-92.6,"b3":-92.2,"b4":-93.5,"b5":-92.9},
{"f":17.0,"b1":-92.2,"b2":-93.6,"b3":-92.8,"b4":-94.5,"b5":-93.3},
{"f":17.6,"r1":-79.5,"r2":-80.2,"r3":-81.0,"r4":-81.6,"r5":-82.0,"b1":-93.2,"b2":-94.0,"b3":-93.6,"b4":-95.0,"b5":-94.3},
{"f":18.1,"b1":-92.9,"b2":-94.6,"b3":-93.7,"b4":-95.5,"b5":-94.1},
{"f":18.6,"r1":-80.1,"r2":-80.8,"r3":-81.8,"r4":-82.6,"r5":-82.9,"b1":-93.4,"b2":-94.5,"b3":-94.0,"b4":-95.4,"b5":-94.8},
{"f":19.2,"b1":-93.1,"b2":-94.9,"b3":-94.2,"b4":-95.8,"b5":-94.4},
{"f":19.69,"b1":-94.3},
{"f":19.7,"r1":-80.6,"r2":-81.3,"r3":-82.5,"r4":-83.4,"r5":-82.0,"b1":-88.0,"b2":-94.6,"b3":-94.2,"b4":-95.7,"b5":-95.0},
{"f":12.4,"b1":-66.6,"b2":-69.4,"b3":-67.3,"b4":-69.9,"b5":-68.1},
{"f":12.6,"b1":-73.0,"b2":-70.5,"b3":-72.6,"b4":-71.0,"b5":-73.4},
{"f":12.9,"b1":-74.6,"b2":-77.3,"b3":-75.1,"b4":-77.6,"b5":-76.0},
{"f":13.2,"b1":-80.4,"b2":-77.8,"b3":-79.9,"b4":-78.2,"b5":-80.7},
{"f":13.7,"b1":-82.0,"b2":-84.6,"b3":-82.7,"b4":-85.0,"b5":-83.5},
{"f":14.0,"b1":-86.6,"b2":-84.1,"b3":-86.0,"b4":-84.4,"b5":-86.9},
{"f":14.45,"b1":-86.4,"b2":-88.8,"b3":-86.9,"b4":-89.3,"b5":-87.7},
{"f":14.95,"b1":-90.7,"b2":-88.3,"b3":-90.1,"b4":-88.6,"b5":-90.9},
{"f":15.5,"b1":-89.9,"b2":-92.2,"b3":-90.4,"b4":-92.6,"b5":-91.1},
{"f":16.1,"b1":-93.3,"b2":-91.0,"b3":-92.9,"b4":-91.3,"b5":-93.6},
{"f":16.7,"b1":-92.0,"b2":-94.1,"b3":-92.5,"b4":-94.4,"b5":-93.0},
{"f":17.3,"b1":-94.9,"b2":-92.7,"b3":-94.4,"b4":-93.0,"b5":-95.1},
{"f":17.9,"b1":-93.0,"b2":-95.2,"b3":-93.5,"b4":-95.6,"b5":-94.0},
{"f":18.35,"b1":-95.4,"b2":-93.3,"b3":-94.9,"b4":-93.6,"b5":-95.6},
{"f":18.9,"b1":-93.4,"b2":-95.5,"b3":-93.8,"b4":-95.9,"b5":-94.2},
{"f":19.45,"b1":-95.7,"b2":-93.7,"b3":-95.2,"b4":-94.0,"b5":-96.0},
{"f":0.4074,"r1":-67.9,"r2":-65.2,"r3":-69.8,"r4":-66.6,"r5":-68.9,"b1":-70.3,"b2":-68.6,"b3":-66.9,"b4":-71.2,"b5":-68.0},
{"f":0.4266,"r1":-66.3,"r2":-69.1,"r3":-67.0,"r4":-64.6,"r5":-70.4,"b1":-67.8,"b2":-70.9,"b3":-69.5,"b4":-68.3,"b5":-70.6},
{"f":0.4467,"r1":-69.6,"r2":-67.8,"r3":-65.2,"r4":-68.9,"r5":-66.3,"b1":-69.9,"b2":-67.4,"b3":-71.7,"b4":-69.6,"b5":-67.7},
{"f":0.4677,"r1":-65.0,"r2":-66.2,"r3":-70.7,"r4":-67.5,"r5":-69.2,"b1":-68.2,"b2":-70.1,"b3":-68.0,"b4":-72.4,"b5":-69.4},
{"f":0.4898,"r1":-68.4,"r2":-70.0,"r3":-66.8,"r4":-65.6,"r5":-67.7,"b1":-71.1,"b2":-68.8,"b3":-70.7,"b4":-67.6,"b5":-68.5},
{"f":0.5129,"r1":-66.9,"r2":-64.9,"r3":-68.4,"r4":-69.7,"r5":-70.5,"b1":-68.9,"b2":-71.3,"b3":-68.1,"b4":-69.8,"b5":-70.9},
{"f":0.537,"r1":-70.6,"r2":-67.8,"r3":-65.9,"r4":-66.4,"r5":-68.0,"b1":-67.5,"b2":-69.4,"b3":-70.6,"b4":-71.5,"b5":-68.4},
{"f":0.5623,"r1":-67.3,"r2":-71.0,"r3":-69.6,"r4":-68.2,"r5":-65.1,"b1":-70.6,"b2":-68.2,"b3":-67.8,"b4":-69.2,"b5":-71.1},
{"f":0.5888,"r1":-65.5,"r2":-66.6,"r3":-67.2,"r4":-70.7,"r5":-69.4,"b1":-69.3,"b2":-71.7,"b3":-70.2,"b4":-68.7,"b5":-67.5},
{"f":0.6166,"r1":-69.0,"r2":-69.3,"r3":-65.8,"r4":-66.1,"r5":-67.6,"b1":-68.0,"b2":-67.5,"b3":-69.6,"b4":-70.9,"b5":-69.8},
{"f":0.6457,"r1":-66.6,"r2":-65.7,"r3":-71.1,"r4":-68.8,"r5":-65.9,"b1":-71.6,"b2":-69.0,"b3":-68.3,"b4":-67.9,"b5":-70.3},
{"f":0.6761,"r1":-68.0,"r2":-68.4,"r3":-67.3,"r4":-65.3,"r5":-70.8,"b1":-68.5,"b2":-71.2,"b3":-70.1,"b4":-69.4,"b5":-68.1},
{"f":0.7079,"r1":-70.9,"r2":-66.1,"r3":-65.0,"r4":-69.9,"r5":-67.0,"b1":-69.7,"b2":-68.4,"b3":-67.8,"b4":-71.1,"b5":-69.9},
{"f":0.7413,"r1":-66.2,"r2":-69.4,"r3":-68.7,"r4":-67.4,"r5":-64.8,"b1":-67.7,"b2":-70.3,"b3":-71.5,"b4":-68.6,"b5":-68.7},
{"f":0.7762,"r1":-68.8,"r2":-67.0,"r3":-66.4,"r4":-64.6,"r5":-69.5,"b1":-70.1,"b2":-69.2,"b3":-68.1,"b4":-70.6,"b5":-72.0},
{"f":0.8128,"r1":-65.3,"r2":-70.6,"r3":-69.9,"r4":-68.3,"r5":-66.9,"b1":-68.8,"b2":-67.6,"b3":-69.9,"b4":-67.9,"b5":-69.1},
{"f":0.8511,"r1":-67.9,"r2":-66.4,"r3":-67.6,"r4":-71.0,"r5":-68.1,"b1":-71.3,"b2":-70.5,"b3":-68.6,"b4":-69.7,"b5":-68.0},
{"f":0.8913,"r1":-70.0,"r2":-68.1,"r3":-64.8,"r4":-66.7,"r5":-70.3,"b1":-69.0,"b2":-68.1,"b3":-70.8,"b4":-68.3,"b5":-70.7},
{"f":0.9333,"r1":-66.7,"r2":-65.3,"r3":-69.5,"r4":-68.9,"r5":-67.4,"b1":-67.6,"b2":-71.4,"b3":-69.4,"b4":-70.9,"b5":-68.6},
{"f":0.9772,"r1":-68.4,"r2":-70.3,"r3":-66.0,"r4":-64.9,"r5":-70.1,"b1":-70.3,"b2":-68.9,"b3":-67.6,"b4":-69.1,"b5":-71.4},
{"f":1.023,"r1":-69.6,"r2":-66.0,"r3":-68.6,"r4":-69.1,"r5":-66.7,"b1":-68.1,"b2":-70.5,"b3":-69.0,"b4":-71.2,"b5":-68.4},
{"f":1.072,"r1":-66.5,"r2":-70.8,"r3":-71.3,"r4":-66.4,"r5":-68.5,"b1":-70.9,"b2":-67.6,"b3":-71.3,"b4":-68.9,"b5":-69.8},
{"f":1.122,"r1":-70.2,"r2":-68.0,"r3":-66.3,"r4":-69.8,"r5":-70.6,"b1":-67.9,"b2":-69.9,"b3":-68.0,"b4":-70.4,"b5":-71.6},
{"f":1.175,"r1":-67.7,"r2":-65.3,"r3":-69.8,"r4":-70.2,"r5":-67.3,"b1":-69.7,"b2":-71.8,"b3":-70.1,"b4":-68.2,"b5":-68.6},
{"f":1.23,"r1":-69.0,"r2":-69.6,"r3":-67.0,"r4":-66.9,"r5":-71.0,"b1":-71.6,"b2":-68.8,"b3":-67.9,"b4":-71.4,"b5":-69.7},
{"f":1.288,"r1":-65.9,"r2":-71.1,"r3":-69.5,"r4":-70.4,"r5":-68.3,"b1":-68.4,"b2":-70.6,"b3":-71.8,"b4":-69.2,"b5":-67.7},
{"f":1.349,"r1":-70.8,"r2":-67.2,"r3":-66.7,"r4":-68.7,"r5":-66.1,"b1":-70.1,"b2":-67.9,"b3":-68.6,"b4":-70.8,"b5":-71.2},
{"f":1.413,"r1":-67.4,"r2":-69.0,"r3":-71.1,"r4":-65.8,"r5":-70.0,"b1":-67.8,"b2":-71.3,"b3":-70.5,"b4":-67.7,"b5":-69.0},
{"f":1.479,"r1":-69.9,"r2":-65.6,"r3":-68.6,"r4":-71.2,"r5":-67.9,"b1":-71.9,"b2":-69.5,"b3":-67.8,"b4":-69.6,"b5":-70.4},
{"f":1.549,"r1":-66.6,"r2":-70.3,"r3":-70.0,"r4":-67.4,"r5":-65.4,"b1":-69.0,"b2":-67.6,"b3":-70.7,"b4":-71.8,"b5":-68.6},
{"f":1.622,"r1":-71.5,"r2":-68.8,"r3":-66.2,"r4":-69.0,"r5":-70.2,"b1":-68.3,"b2":-70.9,"b3":-68.8,"b4":-68.1,"b5":-71.5},
{"f":1.698,"r1":-68.1,"r2":-66.3,"r3":-69.9,"r4":-66.7,"r5":-68.4,"b1":-70.8,"b2":-68.4,"b3":-71.9,"b4":-70.7,"b5":-67.9},
{"f":1.778,"r1":-65.7,"r2":-70.9,"r3":-67.8,"r4":-70.3,"r5":-71.2,"b1":-68.0,"b2":-71.3,"b3":-69.0,"b4":-68.6,"b5":-70.1},
{"f":1.862,"r1":-69.4,"r2":-67.6,"r3":-65.9,"r4":-68.1,"r5":-66.5,"b1":-69.9,"b2":-67.3,"b3":-70.8,"b4":-69.8,"b5":-68.0},
{"f":1.95,"r1":-67.0,"r2":-65.9,"r3":-70.3,"r4":-66.9,"r5":-69.8,"b1":-67.6,"b2":-69.6,"b3":-68.1,"b4":-71.2,"b5":-70.3},
{"f":2.042,"r1":-70.4,"r2":-69.3,"r3":-67.4,"r4":-69.6,"r5":-67.0,"b1":-70.2,"b2":-68.0,"b3":-70.9,"b4":-67.7,"b5":-68.8},
{"f":2.138,"r1":-66.9,"r2":-70.5,"r3":-65.6,"r4":-68.2,"r5":-70.6,"b1":-68.5,"b2":-71.0,"b3":-67.5,"b4":-70.3,"b5":-69.5},
{"f":2.239,"r1":-69.7,"r2":-66.2,"r3":-69.1,"r4":-71.3,"r5":-67.0,"b1":-71.5,"b2":-69.1,"b3":-69.8,"b4":-68.0,"b5":-67.6},
{"f":2.344,"r1":-67.3,"r2":-68.6,"r3":-70.8,"r4":-66.4,"r5":-68.8,"b1":-67.8,"b2":-70.6,"b3":-68.4,"b4":-70.8,"b5":-70.0},
{"f":2.455,"r1":-65.2,"r2":-71.1,"r3":-67.5,"r4":-69.2,"r5":-70.7,"b1":-69.6,"b2":-67.7,"b3":-71.4,"b4":-68.9,"b5":-68.2},
{"f":2.57,"r1":-69.0,"r2":-67.3,"r3":-65.7,"r4":-67.8,"r5":-66.9,"b1":-68.3,"b2":-70.2,"b3":-67.9,"b4":-69.3,"b5":-71.3},
{"f":2.692,"r1":-70.7,"r2":-69.8,"r3":-69.6,"r4":-65.5,"r5":-70.0,"b1":-70.7,"b2":-68.8,"b3":-69.6,"b4":-67.4,"b5":-69.0},
{"f":2.818,"r1":-67.6,"r2":-65.9,"r3":-68.3,"r4":-70.3,"r5":-66.2,"b1":-67.9,"b2":-71.2,"b3":-68.3,"b4":-70.5,"b5":-67.7},
{"f":2.951,"r1":-69.5,"r2":-70.4,"r3":-66.5,"r4":-68.1,"r5":-69.3,"b1":-69.3,"b2":-68.0,"b3":-70.7,"b4":-68.6,"b5":-71.1},
{"f":3.09,"r1":-68.0,"r2":-66.2,"r3":-69.9,"r4":-66.3,"r5":-70.1,"b1":-68.4,"b2":-70.8,"b3":-66.9,"b4":-69.2,"b5":-67.3},
{"f":3.236,"r1":-65.6,"r2":-69.8,"r3":-67.0,"r4":-70.0,"r5":-67.2,"b1":-70.4,"b2":-67.5,"b3":-69.6,"b4":-67.7,"b5":-69.4},
{"f":3.388,"r1":-70.3,"r2":-67.1,"r3":-64.8,"r4":-67.6,"r5":-69.6,"b1":-67.2,"b2":-69.4,"b3":-68.3,"b4":-70.6,"b5":-68.0},
{"f":3.548,"r1":-66.9,"r2":-70.5,"r3":-68.7,"r4":-69.3,"r5":-65.4,"b1":-69.5,"b2":-66.6,"b3":-70.1,"b4":-67.4,"b5":-70.7},
{"f":3.715,"r1":-68.7,"r2":-65.4,"r3":-70.4,"r4":-66.2,"r5":-68.8,"b1":-66.8,"b2":-69.9,"b3":-67.6,"b4":-69.5,"b5":-67.1},
{"f":3.89,"r1":-65.9,"r2":-68.9,"r3":-66.2,"r4":-69.9,"r5":-70.4,"b1":-69.1,"b2":-67.3,"b3":-70.4,"b4":-67.9,"b5":-69.2},
{"f":4.074,"r1":-69.4,"r2":-66.7,"r3":-68.5,"r4":-65.8,"r5":-66.6,"b1":-67.5,"b2":-70.1,"b3":-68.2,"b4":-70.3,"b5":-66.9},
{"f":4.266,"r1":-66.1,"r2":-69.2,"r3":-65.6,"r4":-68.8,"r5":-69.6,"b1":-69.6,"b2":-66.9,"b3":-69.0,"b4":-67.2,"b5":-68.8},
{"f":4.467,"r1":-68.9,"r2":-65.1,"r3":-69.7,"r4":-66.1,"r5":-67.2,"b1":-66.3,"b2":-68.7,"b3":-66.5,"b4":-69.6,"b5":-67.6},
{"f":4.677,"r1":-65.4,"r2":-68.3,"r3":-66.5,"r4":-69.1,"r5":-64.9,"b1":-68.9,"b2":-66.1,"b3":-68.6,"b4":-66.4,"b5":-69.5},
{"f":4.898,"r1":-67.9,"r2":-66.0,"r3":-68.9,"r4":-65.0,"r5":-69.7,"b1":-66.6,"b2":-69.3,"b3":-67.2,"b4":-68.8,"b5":-66.2},
{"f":5.129,"r1":-69.9,"r2":-68.7,"r3":-65.3,"r4":-67.7,"r5":-66.1,"b1":-68.5,"b2":-67.0,"b3":-69.7,"b4":-66.0,"b5":-68.7},
{"f":5.37,"r1":-66.0,"r2":-65.6,"r3":-67.8,"r4":-69.8,"r5":-68.4,"b1":-66.1,"b2":-69.0,"b3":-66.8,"b4":-68.6,"b5":-67.0},
{"f":5.623,"r1":-68.1,"r2":-69.5,"r3":-65.1,"r4":-66.3,"r5":-65.8,"b1":-68.0,"b2":-66.4,"b3":-68.9,"b4":-67.1,"b5":-69.3},
{"f":5.888,"r1":-65.2,"r2":-67.2,"r3":-68.4,"r4":-68.6,"r5":-67.7,"b1":-66.9,"b2":-68.3,"b3":-66.0,"b4":-68.7,"b5":-65.8},
{"f":6.166,"r1":-67.6,"r2":-64.5,"r3":-65.9,"r4":-66.0,"r5":-64.4,"b1":-64.8,"b2":-66.6,"b3":-67.9,"b4":-65.5,"b5":-67.7},
{"f":6.457,"r1":-64.6,"r2":-66.9,"r3":-68.0,"r4":-64.3,"r5":-67.6,"b1":-67.2,"b2":-64.7,"b3":-66.1,"b4":-68.2,"b5":-65.3},
{"f":6.761,"r1":-67.1,"r2":-68.3,"r3":-64.7,"r4":-67.5,"r5":-65.2,"b1":-65.1,"b2":-67.9,"b3":-65.2,"b4":-66.3,"b5":-67.6},
{"f":7.079,"r1":-65.5,"r2":-64.8,"r3":-67.3,"r4":-65.8,"r5":-68.1,"b1":-67.7,"b2":-65.6,"b3":-67.8,"b4":-64.6,"b5":-66.0},
{"f":7.413,"r1":-66.4,"r2":-67.0,"r3":-64.1,"r4":-63.9,"r5":-66.7,"b1":-64.6,"b2":-66.7,"b3":-64.9,"b4":-66.8,"b5":-65.4},
{"f":7.762,"r1":-63.7,"r2":-65.1,"r3":-66.6,"r4":-67.3,"r5":-64.4,"b1":-66.9,"b2":-64.2,"b3":-67.1,"b4":-64.9,"b5":-66.6},
{"f":8.128,"r1":-66.0,"r2":-66.9,"r3":-63.5,"r4":-65.6,"r5":-67.1,"b1":-65.3,"b2":-67.3,"b3":-64.4,"b4":-66.9,"b5":-64.0},
{"f":8.511,"r1":-64.1,"r2":-63.6,"r3":-65.9,"r4":-67.0,"r5":-63.8,"b1":-67.0,"b2":-64.6,"b3":-66.3,"b4":-64.2,"b5":-66.5},
{"f":8.913,"r1":-66.8,"r2":-65.8,"r3":-64.2,"r4":-63.5,"r5":-66.2,"b1":-64.4,"b2":-66.1,"b3":-63.8,"b4":-66.7,"b5":-64.9},
{"f":9.333,"r1":-63.3,"r2":-64.2,"r3":-66.5,"r4":-65.3,"r5":-62.9,"b1":-66.3,"b2":-64.6,"b3":-65.8,"b4":-63.7,"b5":-66.0},
{"f":9.772,"r1":-65.6,"r2":-62.9,"r3":-63.4,"r4":-66.0,"r5":-64.7,"b1":-64.0,"b2":-66.6,"b3":-64.3,"b4":-65.9,"b5":-63.8},
{"f":10.23,"r1":-63.2,"r2":-65.0,"r3":-64.9,"r4":-63.4,"r5":-62.6,"b1":-65.7,"b2":-63.5,"b3":-65.9,"b4":-64.1,"b5":-66.2},
{"f":10.72,"r1":-62.4,"r2":-63.9,"r3":-62.1,"r4":-64.6,"r5":-63.7,"b1":-63.6,"b2":-65.4,"b3":-63.2,"b4":-65.1,"b5":-64.4},
{"f":11.22,"r1":-60.7,"r2":-62.3,"r3":-61.4,"r4":-60.2,"r5":-63.0,"b1":-64.2,"b2":-62.8,"b3":-64.7,"b4":-62.4,"b5":-63.5}
]},
"resolve": {"axis": {"x": "independent", "y": "independent"}},
"layer": [
{
 "transform": [{"fold": ["r1","r2","r3","r4","r5"], "as": ["s","v"]}, {"filter": "isValid(datum.v)"}],
 "mark": {"type": "line", "strokeWidth": 1.3, "opacity": 0.85},
 "encoding": {
  "x": {"field": "f", "type": "quantitative", "scale": {"type": "log", "domain": [0.00324, 19.7], "nice": false},
   "axis": {"orient": "bottom", "values": [0.004,0.005,0.006,0.007,0.008,0.009,0.01,0.02,0.03,0.04,0.05,0.06,0.07,0.08,0.09,0.1,0.2,0.3,0.4,0.5,0.6,0.7,0.8,0.9,1,2,3,4,5,6,7,8,9,10],
    "labelExpr": "datum.value == 0.01 ? '10⁻²' : datum.value == 0.1 ? '10⁻¹' : datum.value == 1 ? '10⁰' : datum.value == 10 ? '10¹' : ''",
    "tickSize": {"condition": {"test": "datum.value == 0.01 || datum.value == 0.1 || datum.value == 1 || datum.value == 10", "value": -15}, "value": -8},
    "labelPadding": 39, "labelOverlap": false, "labelFlush": false, "title": "Frequency (GHz)", "titlePadding": 5}},
  "y": {"field": "v", "type": "quantitative", "scale": {"domain": [-100, 0], "nice": false, "zero": false},
   "axis": {"orient": "left", "values": [0,-10,-20,-30,-40,-50,-60,-70,-80,-90,-100], "labelExpr": "datum.value == 0 ? '0' : '-' + abs(datum.value)", "tickSize": -15, "labelPadding": 25, "title": "Frequency Spectrum (dB)", "titlePadding": 5}},
  "detail": {"field": "s"},
  "color": {"datum": "Pulses at each power setting", "type": "nominal",
   "scale": {"domain": ["Pulses at each power setting", "Background"], "range": ["#ff0000", "#0000ff"]},
   "legend": {"orient": "none", "legendX": 961, "legendY": 22, "title": null, "labelFont": "DejaVu Sans", "labelFontSize": 23, "labelColor": "#000000", "symbolType": "stroke", "symbolSize": 1000, "symbolStrokeWidth": 1.5, "strokeColor": "#555555", "fillColor": "white", "padding": 4, "rowPadding": 1, "labelLimit": 500}}
 }
},
{
 "transform": [{"fold": ["b1","b2","b3","b4","b5"], "as": ["s","v"]}, {"filter": "isValid(datum.v)"}],
 "mark": {"type": "line", "strokeWidth": 1.3, "opacity": 0.85},
 "encoding": {
  "x": {"field": "f", "type": "quantitative", "scale": {"type": "log", "domain": [0.00324, 19.7], "nice": false},
   "axis": {"orient": "top", "values": [0.004,0.005,0.006,0.007,0.008,0.009,0.01,0.02,0.03,0.04,0.05,0.06,0.07,0.08,0.09,0.1,0.2,0.3,0.4,0.5,0.6,0.7,0.8,0.9,1,2,3,4,5,6,7,8,9,10],
    "labels": false, "title": null,
    "tickSize": {"condition": {"test": "datum.value == 0.01 || datum.value == 0.1 || datum.value == 1 || datum.value == 10", "value": -15}, "value": -8}}},
  "y": {"field": "v", "type": "quantitative", "scale": {"domain": [-100, 0], "nice": false, "zero": false},
   "axis": {"orient": "right", "values": [0,-10,-20,-30,-40,-50,-60,-70,-80,-90,-100], "labels": false, "title": null, "tickSize": -15}},
  "detail": {"field": "s"},
  "color": {"datum": "Background", "type": "nominal"}
 }
},
{
 "data": {"values": [
  {"b":1,"f":0.00328,"y":0.3},{"b":1,"f":0.003372,"y":1.94},{"b":1,"f":0.003562,"y":3.03},{"b":1,"f":0.003866,"y":3.44},{"b":1,"f":0.01518,"y":3.44},{"b":1,"f":0.01683,"y":3.98},{"b":1,"f":0.01765,"y":5.08},{"b":1,"f":0.01802,"y":6.45},{"b":1,"f":0.01839,"y":5.08},{"b":1,"f":0.01929,"y":3.98},{"b":1,"f":0.02138,"y":3.44},{"b":1,"f":0.08401,"y":3.44},{"b":1,"f":0.0912,"y":3.03},{"b":1,"f":0.09631,"y":1.94},{"b":1,"f":0.09898,"y":0.3},
  {"b":2,"f":0.1003,"y":0.3},{"b":2,"f":0.1031,"y":1.94},{"b":2,"f":0.1089,"y":3.03},{"b":2,"f":0.1182,"y":3.44},{"b":2,"f":0.2344,"y":3.44},{"b":2,"f":0.2597,"y":3.98},{"b":2,"f":0.2724,"y":5.08},{"b":2,"f":0.2781,"y":6.45},{"b":2,"f":0.2838,"y":5.08},{"b":2,"f":0.2978,"y":3.98},{"b":2,"f":0.33,"y":3.44},{"b":2,"f":0.6541,"y":3.44},{"b":2,"f":0.7099,"y":3.03},{"b":2,"f":0.7499,"y":1.94},{"b":2,"f":0.776,"y":0.3},
  {"b":3,"f":0.776,"y":0.3},{"b":3,"f":0.7976,"y":1.94},{"b":3,"f":0.8425,"y":2.89},{"b":3,"f":0.9209,"y":3.17},{"b":3,"f":1.3416,"y":3.17},{"b":3,"f":1.4367,"y":3.71},{"b":3,"f":1.4867,"y":4.8},{"b":3,"f":1.5175,"y":5.9},{"b":3,"f":1.549,"y":4.8},{"b":3,"f":1.6029,"y":3.71},{"b":3,"f":1.7044,"y":3.17},{"b":3,"f":2.4836,"y":3.17},{"b":3,"f":2.7148,"y":2.89},{"b":3,"f":2.8675,"y":1.94},{"b":3,"f":2.947,"y":0.3},
  {"b":4,"f":2.947,"y":0.3},{"b":4,"f":3.0083,"y":3.3},{"b":4,"f":3.1555,"y":4.95},{"b":4,"f":3.3795,"y":5.77},{"b":4,"f":3.7434,"y":6.04},{"b":4,"f":3.9543,"y":7.4},{"b":4,"f":4.0918,"y":9.46},{"b":4,"f":4.1482,"y":10.82},{"b":4,"f":4.2054,"y":9.46},{"b":4,"f":4.3517,"y":7.4},{"b":4,"f":4.5966,"y":6.04},{"b":4,"f":5.0933,"y":5.77},{"b":4,"f":5.4538,"y":4.95},{"b":4,"f":5.7609,"y":3.3},{"b":4,"f":5.9206,"y":0.3},
  {"b":5,"f":5.9206,"y":0.3},{"b":5,"f":6.0847,"y":2.21},{"b":5,"f":6.3834,"y":3.3},{"b":5,"f":6.93,"y":3.58},{"b":5,"f":7.5743,"y":3.98},{"b":5,"f":8.0004,"y":5.36},{"b":5,"f":8.2224,"y":6.99},{"b":5,"f":8.4504,"y":5.36},{"b":5,"f":8.9265,"y":3.98},{"b":5,"f":9.7557,"y":3.58},{"b":5,"f":10.591,"y":3.3},{"b":5,"f":11.109,"y":2.21},{"b":5,"f":11.339,"y":0.3},
  {"b":6,"f":11.339,"y":0.3},{"b":6,"f":11.495,"y":1.94},{"b":6,"f":11.734,"y":2.6},{"b":6,"f":12.059,"y":3.71},{"b":6,"f":12.394,"y":2.6},{"b":6,"f":12.565,"y":0.57}
 ]},
 "mark": {"type": "line", "interpolate": "monotone", "color": "#000000", "strokeWidth": 6, "strokeCap": "round", "strokeJoin": "round"},
 "encoding": {
  "x": {"field": "f", "type": "quantitative", "axis": null},
  "y": {"field": "y", "type": "quantitative", "axis": null},
  "detail": {"field": "b"}
 }
},
{
 "data": {"values": [
  {"f":0.0166,"y":13.8,"t":"0 – 0.1 GHz"},
  {"f":0.2838,"y":13.8,"t":"0.1 – 0.8 GHz"},
  {"f":1.538,"y":13.5,"t":"0.8 – 3 GHz"},
  {"f":4.178,"y":17.75,"t":"3 – 6 GHz"},
  {"f":12.57,"y":13.1,"t":"6 – 11.5 GHz"},
  {"f":29.15,"y":8.05,"t":"11.5 – 12.5 GHz"}
 ]},
 "mark": {"type": "text", "font": "Lato", "fontSize": 42, "color": "#000000", "align": "center", "baseline": "middle"},
 "encoding": {
  "x": {"field": "f", "type": "quantitative", "axis": null},
  "y": {"field": "y", "type": "quantitative", "axis": null},
  "text": {"field": "t"}
 }
},
{
 "data": {"values": [{"f":0.004682,"y":-86.8,"t":"Power levels shown (in MW): 45, 43, 41, 39, 37"}]},
 "mark": {"type": "text", "font": "Lato", "fontSize": 44, "color": "#000000", "align": "left", "baseline": "middle"},
 "encoding": {
  "x": {"field": "f", "type": "quantitative", "axis": null},
  "y": {"field": "y", "type": "quantitative", "axis": null},
  "text": {"field": "t"}
 }
}
]
}
